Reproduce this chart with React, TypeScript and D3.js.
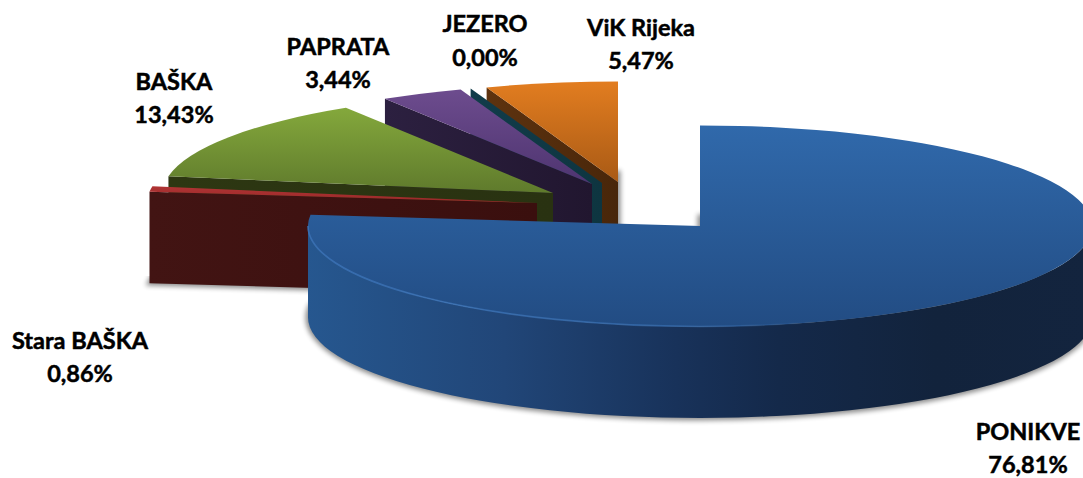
import React from 'react'
import * as d3 from 'd3'

const names = ['PONIKVE', 'Stara BAŠKA', 'BAŠKA', 'PAPRATA', 'JEZERO', 'ViK Rijeka']
const shares = [76.81, 0.86, 13.43, 3.44, 0.0, 5.47]

// layout of the exploded slices, apex of each top face
const apexX = [700, 537, 553, 592, 602, 618]
const apexY = [226, 203, 193, 184, 183, 182]
const labelX = [1028, 80, 174, 338, 485, 641]
const labelY = [440, 349, 90, 55, 32, 36]
const labelGap = [33, 33, 33, 33, 34, 33]

const topFrom = ['#3069ab', '#b03434', '#84a83c', '#6d4c8e', '#1c5a68', '#e27d20']
const topTo = ['#224c83', '#982828', '#5f7a2c', '#4e3470', '#1c5a68', '#a95a15']
const wallFrom = ['#26578f', '#421413', '#2d3712', '#2c2040', '#113c4a', '#5e330f']
const wallTo = ['#11233b', '#3a0f0e', '#293211', '#21162f', '#0e3540', '#48260a']

const width = 1083
const height = 478
const rx = 392
const rxBack = 390 // exploded slices read a little narrower
const ry = 100.5
const depth = 91.5

const arcs = d3.pie<number>().sort(null).startAngle(0).endAngle(2 * Math.PI)(shares)
const arcPath = d3.arc<d3.PieArcDatum<number>>().innerRadius(0).outerRadius(rx)

export default function App() {
  const order = [5, 4, 3, 2, 1, 0]
  const percent = (v: number) => v.toFixed(2).replace('.', ',') + '%'
  const radiusOf = (i: number) => (i === 0 ? rx : rxBack)
  const squash = (i: number, dy = 0) =>
    `translate(${apexX[i]},${apexY[i] + dy}) scale(${radiusOf(i) / rx},${ry / rx})`

  const cx = apexX[0]
  const cy = apexY[0]
  const rim =
    `M${cx - rx},${cy} A${rx},${ry} 0 0 0 ${cx + rx},${cy} ` +
    `L${cx + rx},${cy + depth} A${rx},${ry} 0 0 1 ${cx - rx},${cy + depth} Z`
  const rimEdge = `M${cx - rx},${cy} A${rx},${ry} 0 0 0 ${cx + rx},${cy}`

  return (
    <svg
      width={width}
      height={height}
      style={{ position: 'absolute', left: 0, top: 0, display: 'block' }}
      fontFamily="Lato, Carlito, sans-serif"
    >
      <defs>
        <filter id="soft" x="-10%" y="-10%" width="120%" height="130%">
          <feGaussianBlur stdDeviation="2.5" />
        </filter>
        {order.map((i) => (
          <linearGradient key={i} id={`top${i}`} x1="0" y1="0" x2="0" y2="1">
            <stop offset="0" stopColor={topFrom[i]} />
            <stop offset="1" stopColor={topTo[i]} />
          </linearGradient>
        ))}
        {order.map((i) => (
          <linearGradient key={i} id={`wall${i}`} x1="0" y1="0" x2="1" y2="0">
            <stop offset="0" stopColor={wallFrom[i]} />
            <stop offset="1" stopColor={wallTo[i]} />
          </linearGradient>
        ))}
        <linearGradient id="rim" gradientUnits="userSpaceOnUse" x1={cx - rx} y1="0" x2={cx + rx} y2="0">
          <stop offset="0" stopColor="#26578f" />
          <stop offset="0.25" stopColor="#214678" />
          <stop offset="0.47" stopColor="#18325a" />
          <stop offset="0.6" stopColor="#14294a" />
          <stop offset="0.8" stopColor="#12233c" />
          <stop offset="1" stopColor="#13243e" />
        </linearGradient>
        <linearGradient id="edge" gradientUnits="userSpaceOnUse" x1={cx - rx} y1="0" x2={cx + rx} y2="0">
          <stop offset="0" stopColor="#3a72b6" stopOpacity="0.9" />
          <stop offset="0.5" stopColor="#3a72b6" stopOpacity="0.6" />
          <stop offset="0.65" stopColor="#3a72b6" stopOpacity="0" />
        </linearGradient>
      </defs>

      {order.map((i) => {
        const a = arcs[i]
        const far = [
          apexX[i] + radiusOf(i) * Math.sin(a.startAngle),
          apexY[i] - ry * Math.cos(a.startAngle),
        ]
        const sideWall = d3.line()([
          [far[0], far[1]],
          [apexX[i], apexY[i]],
          [apexX[i], apexY[i] + depth],
          [far[0], far[1] + depth],
        ]) + 'Z'
        return (
          <g key={i}>
            <g filter="url(#soft)" opacity={0.45}>
              <path
                d={arcPath(a) || ''}
                transform={squash(i, depth)}
                fill="#000"
                stroke="#000"
                strokeWidth={5}
                vectorEffect="non-scaling-stroke"
              />
            </g>
            {i === 0 ? (
              <path d={rim} fill="url(#rim)" />
            ) : (
              <path d={sideWall} fill={`url(#wall${i})`} />
            )}
            <path d={arcPath(a) || ''} transform={squash(i)} fill={`url(#top${i})`} />
            {i === 0 && <path d={rimEdge} fill="none" stroke="url(#edge)" strokeWidth={1.6} />}
          </g>
        )
      })}

      {names.map((name, i) => (
        <text
          key={name}
          textAnchor="middle"
          fontSize={23.5}
          fontWeight={700}
          fill="#000"
          stroke="#000"
          strokeWidth={0.5}
        >
          <tspan x={labelX[i]} y={labelY[i]}>{name}</tspan>
          <tspan x={labelX[i]} y={labelY[i] + labelGap[i]}>{percent(shares[i])}</tspan>
        </text>
      ))}
    </svg>
  )
}
